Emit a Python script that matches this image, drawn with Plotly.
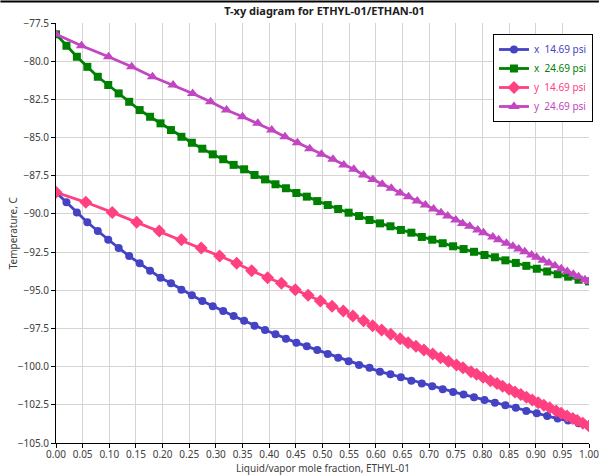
import plotly.graph_objects as go

# Liquid mole fraction grid (52 points)
x_liq = [0.0, 0.0196, 0.0392, 0.0588, 0.0784, 0.098, 0.1176, 0.1373, 0.1569, 0.1765,
         0.1961, 0.2157, 0.2353, 0.2549, 0.2745, 0.2941, 0.3137, 0.3333, 0.3529, 0.3725,
         0.3922, 0.4118, 0.4314, 0.451, 0.4706, 0.4902, 0.5098, 0.5294, 0.549, 0.5686,
         0.5882, 0.6078, 0.6275, 0.6471, 0.6667, 0.6863, 0.7059, 0.7255, 0.7451, 0.7647,
         0.7843, 0.8039, 0.8235, 0.8431, 0.8627, 0.8824, 0.902, 0.9216, 0.9412, 0.9608,
         0.9804, 1.0]

# Temperatures at 14.69 psi
T_1469 = [-88.59, -89.24, -89.90, -90.55, -91.12, -91.69, -92.23, -92.76, -93.23, -93.72,
          -94.18, -94.54, -94.96, -95.33, -95.70, -96.05, -96.36, -96.68, -96.99, -97.32,
          -97.60, -97.88, -98.17, -98.43, -98.67, -98.91, -99.17, -99.41, -99.65, -99.89,
          -100.08, -100.33, -100.50, -100.69, -100.92, -101.11, -101.28, -101.48, -101.66, -101.83,
          -102.00, -102.18, -102.36, -102.53, -102.70, -102.90, -103.05, -103.23, -103.40, -103.53,
          -103.70, -103.88]

# Vapor mole fraction at 14.69 psi
y_1469 = [0.0, 0.0559, 0.1056, 0.1514, 0.1937, 0.2352, 0.2724, 0.307, 0.339, 0.367,
          0.397, 0.423, 0.449, 0.473, 0.496, 0.518, 0.539, 0.557, 0.577, 0.594,
          0.611, 0.628, 0.6456, 0.6607, 0.6753, 0.6903, 0.7067, 0.7216, 0.7363, 0.7514,
          0.7635, 0.7786, 0.7892, 0.8013, 0.8151, 0.8274, 0.838, 0.8501, 0.8611, 0.8721,
          0.8827, 0.8937, 0.9047, 0.9153, 0.9263, 0.9384, 0.9477, 0.9587, 0.9696, 0.9778,
          0.9885, 1.0]

# Temperatures at 24.69 psi
T_2469 = [-78.24, -78.99, -79.71, -80.37, -81.02, -81.56, -82.11, -82.66, -83.20, -83.64,
          -84.07, -84.51, -84.95, -85.34, -85.73, -86.10, -86.42, -86.79, -87.08, -87.45,
          -87.74, -88.06, -88.32, -88.63, -88.87, -89.16, -89.42, -89.68, -89.92, -90.14,
          -90.40, -90.62, -90.81, -91.05, -91.23, -91.51, -91.69, -91.92, -92.12, -92.30,
          -92.48, -92.69, -92.84, -93.04, -93.21, -93.40, -93.59, -93.77, -93.95, -94.11,
          -94.31, -94.42]

# Vapor mole fraction at 24.69 psi
y_2469 = [0.0, 0.0479, 0.0987, 0.142, 0.181, 0.2197, 0.2564, 0.290, 0.320, 0.350,
          0.3786, 0.4047, 0.4296, 0.453, 0.476, 0.498, 0.5196, 0.540, 0.5587, 0.577,
          0.5946, 0.612, 0.629, 0.6456, 0.6614, 0.6778, 0.6931, 0.7084, 0.7223, 0.735,
          0.7501, 0.7628, 0.7762, 0.7913, 0.8021, 0.8196, 0.8305, 0.8451, 0.8572, 0.8682,
          0.8795, 0.8924, 0.9017, 0.9138, 0.9248, 0.9361, 0.9479, 0.9592, 0.9706, 0.9803,
          0.9924, 1.0]

series_names = ["x  14.69 psi", "x  24.69 psi", "y  14.69 psi", "y  24.69 psi"]
colors = ["#4343c3", "#008000", "#ff4081", "#c245c2"]
symbols = ["circle", "square", "diamond", "triangle-up"]
sizes = [8, 8, 10, 10]

data = [(x_liq, T_1469), (x_liq, T_2469), (y_1469, T_1469), (y_2469, T_2469)]

fig = go.Figure()
for (xs, ts), name, c, s, sz in zip(data, series_names, colors, symbols, sizes):
    fig.add_trace(go.Scatter(
        x=xs, y=ts, mode="lines+markers",
        name=f"<span style='color:{c}'>{name}</span>",
        line=dict(color=c, width=2.8),
        marker=dict(color=c, symbol=s, size=sz, line=dict(width=0)),
    ))

font_family = "Noto Sans, Open Sans, DejaVu Sans, sans-serif"
PL, PR, PT, PB = 56, 10, 23, 32
PW, PH = 603 - PL - PR, 475 - PT - PB

fig.update_layout(
    width=603, height=475,
    margin=dict(l=PL, r=PR, t=PT, b=PB),
    paper_bgcolor="white", plot_bgcolor="white",
    font=dict(family=font_family, size=10, color="#404040"),
    title=dict(text="<b>T-xy diagram for ETHYL-01/ETHAN-01</b>",
               x=(PL + 603 - PR) / 2 / 603, xanchor="center",
               y=1 - 11 / 475, yanchor="middle",
               font=dict(size=11, color="#202020")),
    showlegend=True,
    legend=dict(x=1 + 4 / PW, y=1 - (34 - PT) / PH, xanchor="right", yanchor="top",
                bgcolor="white", bordercolor="black", borderwidth=1,
                font=dict(size=10), itemwidth=30, tracegroupgap=0),
    annotations=[
        dict(text="Liquid/vapor mole fraction, ETHYL-01", xref="paper", yref="paper",
             x=0.5, y=-(468 - PT - PH) / PH, xanchor="center", yanchor="middle",
             showarrow=False, font=dict(size=10, color="#404040")),
        dict(text="Temperature, C", xref="paper", yref="paper", textangle=-90,
             x=(13 - PL) / PW, y=0.5, xanchor="center", yanchor="middle",
             showarrow=False, font=dict(size=10, color="#404040")),
    ],
)

fig.update_xaxes(
    range=[0, 1], dtick=0.05, tick0=0, tickformat=".2f",
    showgrid=True, gridcolor="#d4d4d4", gridwidth=1,
    showline=True, linecolor="black", linewidth=1,
    ticks="outside", ticklen=4, tickcolor="black",
    zeroline=False, tickfont=dict(size=10), automargin=False,
    ticklabelstandoff=-2, ticklabeloverflow="allow",
)
fig.update_yaxes(
    range=[-105, -77.5], dtick=2.5, tick0=-105, tickformat=".1f",
    showgrid=True, gridcolor="#d4d4d4", gridwidth=1,
    showline=True, linecolor="black", linewidth=1,
    ticks="outside", ticklen=4, tickcolor="black",
    zeroline=False, tickfont=dict(size=10), automargin=False,
    ticklabeloverflow="allow",
)

# top frame line of the image
fig.add_shape(type="line", xref="paper", yref="paper",
              x0=-PL / PW, x1=1 + PR / PW, y0=1 + (PT - 1.5) / PH, y1=1 + (PT - 1.5) / PH,
              line=dict(color="black", width=2))

fig.write_html("out.html", config={"displayModeBar": False},
               post_script="document.body.style.margin='0';document.body.style.padding='0';")
